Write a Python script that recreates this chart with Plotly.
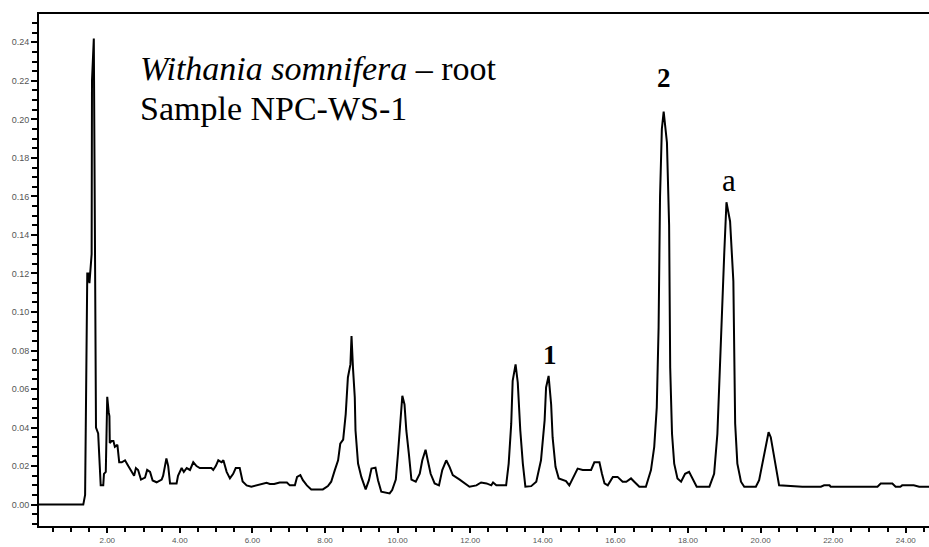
import plotly.graph_objects as go

# Retention time (min) and absorbance
time_min = [
    0.12, 1.34, 1.39, 1.45, 1.48, 1.51, 1.57, 1.58, 1.63, 1.66, 1.69, 1.75, 1.78, 1.80, 1.82,
    1.89, 1.91, 1.96, 2.00, 2.04, 2.06, 2.07, 2.12, 2.17, 2.21, 2.28, 2.33, 2.40, 2.49, 2.58,
    2.67, 2.74, 2.79, 2.85, 2.93, 3.04, 3.10, 3.18, 3.25, 3.36, 3.50, 3.54, 3.59, 3.63, 3.68,
    3.73, 3.91, 3.95, 4.05, 4.11, 4.19, 4.28, 4.37, 4.46, 4.55, 4.87, 4.92, 4.99, 5.06, 5.15,
    5.20, 5.29, 5.38, 5.47, 5.54, 5.65, 5.73, 5.84, 5.97, 6.11, 6.39, 6.48, 6.60, 6.75, 6.95,
    7.03, 7.17, 7.23, 7.32, 7.39, 7.50, 7.62, 7.94, 8.08, 8.17, 8.27, 8.36, 8.42, 8.50, 8.57,
    8.63, 8.70, 8.73, 8.77, 8.82, 8.84, 8.91, 9.00, 9.12, 9.21, 9.28, 9.39, 9.46, 9.55, 9.78,
    9.85, 9.95, 10.01, 10.06, 10.13, 10.19, 10.24, 10.31, 10.38, 10.50, 10.61, 10.68, 10.77,
    10.83, 10.91, 11.02, 11.14, 11.23, 11.34, 11.43, 11.52, 11.71, 11.89, 11.98, 12.17, 12.30,
    12.45, 12.58, 12.63, 12.72, 12.99, 13.06, 13.13, 13.17, 13.25, 13.31, 13.38, 13.45, 13.52,
    13.68, 13.82, 13.95, 14.05, 14.09, 14.16, 14.23, 14.27, 14.35, 14.44, 14.55, 14.64, 14.73,
    14.82, 14.96, 15.10, 15.33, 15.42, 15.56, 15.63, 15.70, 15.79, 15.93, 16.06, 16.20, 16.30,
    16.43, 16.52, 16.66, 16.84, 16.98, 17.07, 17.14, 17.19, 17.23, 17.28, 17.33, 17.42, 17.48,
    17.51, 17.56, 17.62, 17.71, 17.81, 17.92, 18.03, 18.13, 18.24, 18.59, 18.72, 18.81, 18.91,
    19.00, 19.06, 19.16, 19.25, 19.30, 19.36, 19.46, 19.55, 19.87, 19.96, 20.05, 20.15, 20.22,
    20.28, 20.37, 20.47, 20.51, 21.15, 21.66, 21.75, 21.90, 21.93, 23.22, 23.31, 23.63, 23.72,
    23.85, 23.90, 24.22, 24.37, 24.64,
]
absorbance = [
    0.0, 0.0, 0.005, 0.12, 0.12, 0.115, 0.13, 0.22, 0.242, 0.10, 0.040, 0.037, 0.026, 0.023, 0.010,
    0.010, 0.016, 0.017, 0.056, 0.048, 0.046, 0.032, 0.033, 0.033, 0.030, 0.031, 0.022, 0.022, 0.023, 0.020,
    0.017, 0.015, 0.019, 0.018, 0.013, 0.014, 0.018, 0.017, 0.0125, 0.0116, 0.013, 0.015, 0.020, 0.024, 0.020,
    0.011, 0.011, 0.015, 0.019, 0.017, 0.019, 0.018, 0.022, 0.020, 0.019, 0.019, 0.018, 0.020, 0.023, 0.022,
    0.023, 0.017, 0.0136, 0.016, 0.019, 0.019, 0.012, 0.010, 0.0093, 0.010, 0.0113, 0.0107, 0.0107, 0.0115, 0.0115,
    0.010, 0.010, 0.0144, 0.0153, 0.0127, 0.010, 0.0079, 0.0079, 0.0096, 0.0119, 0.0179, 0.023, 0.0316, 0.0337, 0.047,
    0.066, 0.0728, 0.0875, 0.071, 0.0557, 0.0385, 0.0213, 0.0144, 0.0079, 0.0127, 0.0187, 0.0192, 0.0127, 0.0067, 0.0058,
    0.0076, 0.013, 0.0264, 0.0385, 0.0565, 0.052, 0.0385, 0.0264, 0.013, 0.0119, 0.016, 0.023, 0.0285,
    0.023, 0.016, 0.011, 0.010, 0.0179, 0.023, 0.0196, 0.0153, 0.013, 0.0107, 0.0093, 0.010, 0.0115,
    0.011, 0.010, 0.0115, 0.010, 0.010, 0.0213, 0.0419, 0.0643, 0.0728, 0.0634, 0.0385, 0.0213, 0.0093,
    0.0096, 0.0119, 0.023, 0.0437, 0.0608, 0.0668, 0.052, 0.035, 0.0196, 0.0136, 0.013, 0.0122, 0.010,
    0.0136, 0.0187, 0.018, 0.018, 0.022, 0.022, 0.016, 0.011, 0.010, 0.0144, 0.0144, 0.0119, 0.0119,
    0.0136, 0.0119, 0.0093, 0.0093, 0.0179, 0.030, 0.0505, 0.0918, 0.160, 0.195, 0.204, 0.188, 0.145,
    0.071, 0.0368, 0.0213, 0.0136, 0.0119, 0.016, 0.017, 0.0136, 0.0093, 0.0093, 0.016, 0.0368, 0.0918,
    0.131, 0.157, 0.147, 0.116, 0.042, 0.0213, 0.0119, 0.0093, 0.0093, 0.0127, 0.0213, 0.030, 0.0376,
    0.035, 0.0247, 0.0144, 0.010, 0.0093, 0.0093, 0.010, 0.010, 0.0093, 0.0093, 0.011, 0.011, 0.0093,
    0.0093, 0.010, 0.010, 0.0093, 0.0093,
]

# Peak labels
peak_labels = ["1", "2", "a"]
peak_label_x = [14.21, 17.35, 19.14]
peak_label_y = [0.0775, 0.2216, 0.1685]
peak_label_bold = [True, True, False]

title_line1 = "<i>Withania somnifera</i> – root"
title_line2 = "Sample NPC-WS-1"

serif = "Liberation Serif, Times New Roman, serif"

fig = go.Figure()
fig.add_trace(go.Scatter(
    x=time_min, y=absorbance, mode="lines",
    line=dict(color="black", width=2), showlegend=False, hoverinfo="skip",
))

for lab, lx, ly, b in zip(peak_labels, peak_label_x, peak_label_y, peak_label_bold):
    fig.add_annotation(
        x=lx, y=ly, xref="x", yref="y", showarrow=False,
        text=f"<b>{lab}</b>" if b else lab,
        font=dict(family=serif, size=27 if b else 31, color="black"),
        xanchor="center", yanchor="middle",
    )

fig.add_annotation(x=0.111, y=0.893, xref="paper", yref="paper", showarrow=False,
                   text=title_line1, xanchor="left", yanchor="middle",
                   font=dict(family=serif, size=34, color="black"))
fig.add_annotation(x=0.111, y=0.816, xref="paper", yref="paper", showarrow=False,
                   text=title_line2, xanchor="left", yanchor="middle",
                   font=dict(family=serif, size=34, color="black"))

tickfont_y = dict(family="Liberation Sans, Arial, sans-serif", size=9, color="#555555")
tickfont_x = dict(family="Liberation Sans, Arial, sans-serif", size=8, color="#555555")

fig.update_layout(
    width=929, height=547,
    margin=dict(l=39, r=0, t=14, b=21),
    paper_bgcolor="white", plot_bgcolor="white",
    template=None,
    xaxis=dict(
        range=[0.12, 24.64], showgrid=False, zeroline=False,
        showline=True, linecolor="black", linewidth=2, mirror=True,
        ticks="outside", ticklen=5, tickwidth=1.5, tickcolor="black",
        tick0=0, dtick=2, tickformat=".2f", tickfont=tickfont_x,
        minor=dict(ticks="outside", dtick=0.5, tick0=0, ticklen=4, tickwidth=1.5, tickcolor="black"),
        automargin=False,
    ),
    yaxis=dict(
        range=[-0.0111, 0.2547], showgrid=False, zeroline=False,
        showline=True, linecolor="black", linewidth=2, mirror=False,
        ticks="outside", ticklen=6, tickwidth=1.5, tickcolor="black",
        tick0=0, dtick=0.02, tickformat=".2f", tickfont=tickfont_y,
        minor=dict(ticks="outside", dtick=0.005, tick0=0, ticklen=5, tickwidth=1.5, tickcolor="black"),
        automargin=False,
    ),
)

fig.write_html("out.html", config={"displayModeBar": False},
               post_script="document.body.style.margin='0';")
